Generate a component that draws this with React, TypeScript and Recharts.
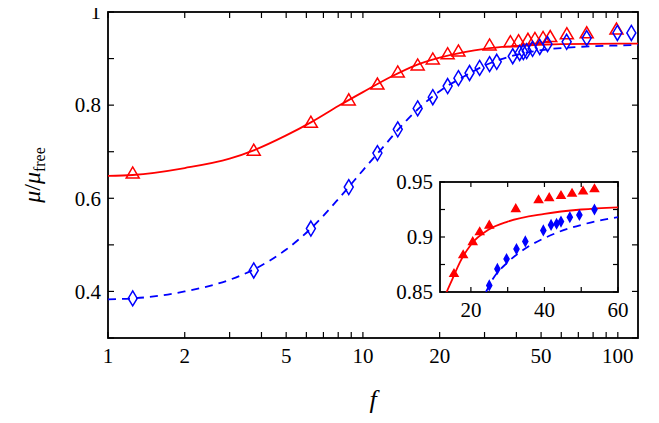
import React from 'react';
import { ComposedChart, Line, Scatter, XAxis, YAxis } from 'recharts';

// main panel markers
const redF = [1.25, 3.73, 6.25, 8.8, 11.4, 13.7, 16.4, 18.8, 21.5, 23.7, 31.4, 37.9, 40.8, 44.4, 47.3, 50.9, 54.3, 63.1, 75.5, 98.8];
const redMu = [0.654, 0.703, 0.763, 0.811, 0.845, 0.871, 0.886, 0.899, 0.91, 0.916, 0.929, 0.936, 0.938, 0.941, 0.943, 0.945, 0.947, 0.953, 0.955, 0.963];
const blueF = [1.25, 3.73, 6.25, 8.8, 11.4, 13.7, 16.4, 18.8, 21.5, 23.7, 26.2, 28.7, 31.4, 33.5, 38.7, 41.2, 42.6, 43.9, 46.3, 49.4, 53, 63, 75.5, 99.6, 113];
const blueMu = [0.385, 0.445, 0.535, 0.624, 0.697, 0.748, 0.793, 0.817, 0.841, 0.858, 0.869, 0.88, 0.888, 0.893, 0.905, 0.912, 0.914, 0.916, 0.921, 0.925, 0.931, 0.936, 0.944, 0.955, 0.955];
// main panel fits
const redFitF = [1, 1.25, 2, 3, 3.73, 5, 6.25, 8, 10, 13, 16, 20, 25, 30, 40, 60, 100, 120];
const redFitMu = [0.648, 0.65, 0.665, 0.685, 0.703, 0.735, 0.763, 0.798, 0.828, 0.862, 0.885, 0.902, 0.914, 0.921, 0.927, 0.931, 0.932, 0.932];
const blueFitF = [1, 1.25, 2, 3, 3.73, 5, 6.25, 8, 10, 12, 15, 20, 25, 30, 40, 50, 70, 100, 120];
const blueFitMu = [0.383, 0.385, 0.4, 0.425, 0.447, 0.49, 0.535, 0.598, 0.66, 0.71, 0.77, 0.83, 0.862, 0.885, 0.908, 0.918, 0.925, 0.928, 0.929];
// inset
const inRedF = [15.4, 17.9, 20.5, 22.4, 25.0, 32.2, 38.4, 41.3, 44.5, 47.5, 50.5, 53.6];
const inRedMu = [0.867, 0.884, 0.896, 0.905, 0.911, 0.926, 0.934, 0.936, 0.938, 0.94, 0.942, 0.944];
const inBlueF = [25.0, 27.2, 29.7, 32.4, 34.8, 39.7, 41.8, 43.3, 44.5, 46.9, 49.5, 53.6];
const inBlueMu = [0.856, 0.871, 0.88, 0.889, 0.896, 0.906, 0.911, 0.912, 0.914, 0.918, 0.92, 0.925];
const inRedFitF = [13.4, 15, 17, 20, 25, 30, 40, 50, 60];
const inRedFitMu = [0.85, 0.862, 0.877, 0.893, 0.907, 0.914, 0.921, 0.925, 0.927];
const inBlueFitF = [24.1, 26, 30, 35, 40, 45, 50, 55, 60];
const inBlueFitMu = [0.85, 0.862, 0.877, 0.89, 0.899, 0.906, 0.911, 0.915, 0.918];

const xTicks = [1, 2, 3, 4, 5, 6, 7, 8, 9, 10, 20, 30, 40, 50, 60, 70, 80, 90, 100];
const xLabels = [1, 2, 5, 10, 20, 50, 100];
const yTicks = [0.3, 0.4, 0.5, 0.6, 0.7, 0.8, 0.9, 1];
const yLabels = [0.4, 0.6, 0.8, 1];
const inXTicks = [20, 30, 40, 50, 60];
const inXLabels = [20, 40, 60];
const inYTicks = [0.85, 0.875, 0.9, 0.925, 0.95];
const inYLabels = [0.85, 0.9, 0.95];

const zip = (f: number[], m: number[]) => f.map((x, i) => ({ f: x, mu: m[i] }));
const FONT = 'Liberation Serif';
const RED = '#ff0000';
const BLUE = '#0000ff';

const Tri = (filled: boolean, s: number) => (p: any) => (
  <polygon
    points={`${p.cx - s},${p.cy + s * 0.75} ${p.cx + s},${p.cy + s * 0.75} ${p.cx},${p.cy - s * 0.95}`}
    fill={filled ? RED : 'none'} stroke={RED} strokeWidth={1.5} />
);
const Dia = (filled: boolean, w: number, h: number) => (p: any) => (
  <polygon
    points={`${p.cx},${p.cy - h} ${p.cx + w},${p.cy} ${p.cx},${p.cy + h} ${p.cx - w},${p.cy}`}
    fill={filled ? BLUE : 'none'} stroke={BLUE} strokeWidth={1.5} />
);

function Panel(props: {
  w: number; h: number; l: number; r: number; t: number; b: number;
  xDomain: number[]; yDomain: number[]; log: boolean;
  xt: number[]; xl: number[]; yt: number[]; yl: number[]; fs: number; tl: number;
  children: React.ReactNode;
}) {
  const { w, h, l, r, t, b, fs, tl } = props;
  const right = w - r;
  const bottom = h - b;
  const xTick = (p: any) => {
    const v = p.payload.value;
    return (
      <g>
        <line x1={p.x} x2={p.x} y1={bottom} y2={bottom - tl} stroke="#000" strokeWidth={1.2} />
        <line x1={p.x} x2={p.x} y1={t} y2={t + tl} stroke="#000" strokeWidth={1.2} />
        {props.xl.includes(v) && (
          <text x={p.x} y={bottom + fs + 4} textAnchor="middle" fontSize={fs} fontFamily={FONT} fill="#000">{String(v)}</text>
        )}
      </g>
    );
  };
  const yTick = (p: any) => {
    const v = p.payload.value;
    return (
      <g>
        <line x1={l} x2={l + tl} y1={p.y} y2={p.y} stroke="#000" strokeWidth={1.2} />
        <line x1={right} x2={right - tl} y1={p.y} y2={p.y} stroke="#000" strokeWidth={1.2} />
        {props.yl.includes(v) && (
          <text x={l - 7} y={p.y + fs * 0.35} textAnchor="end" fontSize={fs} fontFamily={FONT} fill="#000">{String(v)}</text>
        )}
      </g>
    );
  };
  return (
    <ComposedChart width={w} height={h} margin={{ top: t, right: r, bottom: 0, left: 0 }}>
      <rect x={l} y={t} width={right - l} height={bottom - t} fill="#fff" stroke="#000" strokeWidth={1.8} />
      <XAxis dataKey="f" type="number" scale={props.log ? 'log' : 'linear'} domain={props.xDomain}
        ticks={props.xt} tick={xTick} tickLine={false} axisLine={false} height={b} allowDataOverflow interval={0} />
      <YAxis dataKey="mu" type="number" domain={props.yDomain} ticks={props.yt} tick={yTick}
        tickLine={false} axisLine={false} width={l} allowDataOverflow interval={0} />
      {props.children}
    </ComposedChart>
  );
}

export default function App() {
  return (
    <div style={{ position: 'relative', margin: -8, width: 659, height: 423, background: '#fff', fontFamily: FONT }}>
      <Panel w={659} h={423} l={108} r={21} t={12} b={85} xDomain={[1, 120]} yDomain={[0.3, 1]} log
        xt={xTicks} xl={xLabels} yt={yTicks} yl={yLabels} fs={21} tl={6}>
        <Line data={zip(redFitF, redFitMu)} dataKey="mu" type="monotone" stroke={RED} strokeWidth={1.8} dot={false} isAnimationActive={false} />
        <Line data={zip(blueFitF, blueFitMu)} dataKey="mu" type="monotone" stroke={BLUE} strokeWidth={1.8} strokeDasharray="8 6" dot={false} isAnimationActive={false} />
        <Scatter data={zip(redF, redMu)} dataKey="mu" shape={Tri(false, 6.5)} isAnimationActive={false} />
        <Scatter data={zip(blueF, blueMu)} dataKey="mu" shape={Dia(false, 4.5, 7.5)} isAnimationActive={false} />
      </Panel>
      <div style={{ position: 'absolute', left: 0, top: 0 }}>
        <Panel w={659} h={423} l={440} r={41} t={182} b={131} xDomain={[11.6, 60]} yDomain={[0.85, 0.95]} log={false}
          xt={inXTicks} xl={inXLabels} yt={inYTicks} yl={inYLabels} fs={21} tl={5}>
          <Line data={zip(inRedFitF, inRedFitMu)} dataKey="mu" type="monotone" stroke={RED} strokeWidth={1.8} dot={false} isAnimationActive={false} />
          <Line data={zip(inBlueFitF, inBlueFitMu)} dataKey="mu" type="monotone" stroke={BLUE} strokeWidth={1.8} strokeDasharray="8 6" dot={false} isAnimationActive={false} />
          <Scatter data={zip(inRedF, inRedMu)} dataKey="mu" shape={Tri(true, 4)} isAnimationActive={false} />
          <Scatter data={zip(inBlueF, inBlueMu)} dataKey="mu" shape={Dia(true, 2.5, 4.5)} isAnimationActive={false} />
        </Panel>
      </div>
      <svg style={{ position: 'absolute', left: 0, top: 0 }} width={659} height={423} pointerEvents="none">
        <text x={373} y={408} fontSize={26} fontStyle="italic" textAnchor="middle" fontFamily={FONT}>f</text>
        <text transform="translate(40,175) rotate(-90)" fontSize={24} textAnchor="middle" fontFamily={FONT}>
          <tspan fontStyle="italic">μ</tspan>/<tspan fontStyle="italic">μ</tspan>
          <tspan fontSize={16} dy={5}>free</tspan>
        </text>
      </svg>
    </div>
  );
}
